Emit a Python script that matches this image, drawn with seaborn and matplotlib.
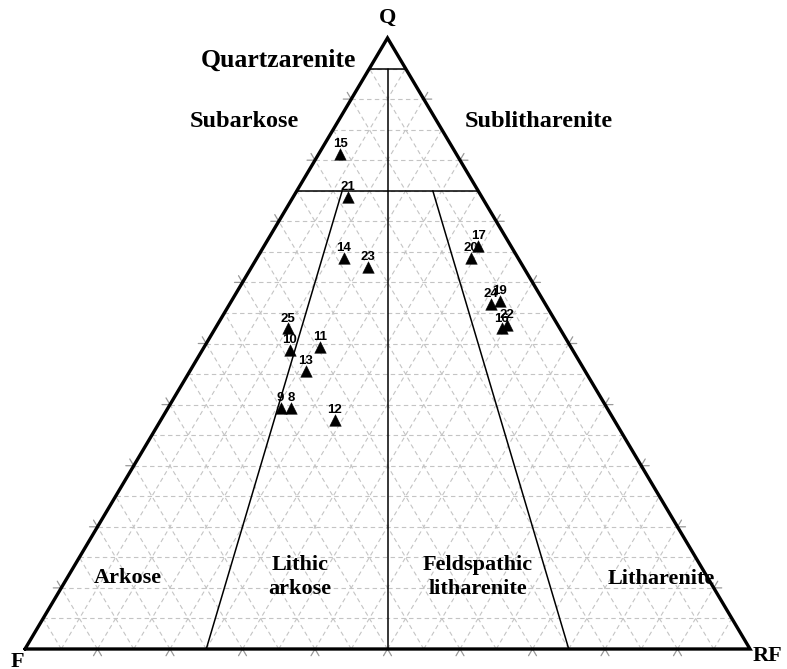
import numpy as np
import pandas as pd
import seaborn as sns
import matplotlib.pyplot as plt

# sample compositions (% Q / F / RF)
sample_ids = ['15', '21', '14', '23', '25', '10', '11', '13', '9', '8', '12',
              '17', '20', '19', '24', '22', '16']
q_pct = [81, 74, 64, 62.5, 52.5, 49, 49.5, 45.5, 39.5, 39.5, 37.5,
         66, 64, 57, 56.5, 53, 52.5]
f_pct = [16, 18.5, 24, 21.5, 37.5, 39, 34.5, 38.5, 45, 43.5, 38.5,
         4.5, 6.5, 6, 7.5, 7, 8]
rf_pct = [3, 7.5, 12, 16, 10, 12, 16, 16, 15.5, 17, 24,
          29.5, 29.5, 37, 36, 40, 39.5]

# Folk field boundaries, each as (Q, F, RF) end points in %
boundaries = [
    [(95, 5, 0), (95, 0, 5)],
    [(75, 25, 0), (75, 0, 25)],
    [(95, 2.5, 2.5), (0, 50, 50)],
    [(75, 18.75, 6.25), (0, 75, 25)],
    [(75, 6.25, 18.75), (0, 25, 75)],
]

field_names = ['Quartzarenite', 'Subarkose', 'Sublitharenite', 'Arkose',
               'Lithic\narkose', 'Feldspathic\nlitharenite', 'Litharenite']
field_pos = [(0.349, 0.964), (0.302, 0.864), (0.709, 0.864), (0.142, 0.116),
             (0.379, 0.118), (0.625, 0.118), (0.878, 0.115)]
field_size = [18.5, 17.5, 17.5, 16, 16, 16, 16]


def to_xy(q, f, r):
    q = np.asarray(q, float) / 100
    r = np.asarray(r, float) / 100
    return r + q / 2, q


sns.set_style('white')
plt.rcParams['text.color'] = 'black'
serif = ['Liberation Serif', 'DejaVu Serif']
sans = ['Liberation Sans', 'DejaVu Sans']

fig = plt.figure(figsize=(7.87, 6.69), dpi=100)
ax = fig.add_axes([25 / 787, 20 / 669, 725 / 787, 611 / 669])

grid_kw = dict(color='#c4c4c4', lw=0.8, ls=(0, (4, 3)), zorder=1)
for v in np.arange(1, 20) / 20:
    ax.plot([v / 2, 1 - v / 2], [v, v], **grid_kw)
    ax.plot([v, v + (1 - v) / 2], [0, 1 - v], **grid_kw)
    ax.plot([1 - v, (1 - v) / 2], [0, 1 - v], **grid_kw)

# small ticks on the edges every 10 %
t = 0.011
tick_kw = dict(color='#999999', lw=0.9, zorder=1, clip_on=False)
for v in np.arange(1, 10) / 10:
    ax.plot([v - t / 2, v, v + t / 2], [-t, 0, -t], **tick_kw)
    ax.plot([v / 2 - t, v / 2, v / 2 - t / 2], [v, v, v + t], **tick_kw)
    ax.plot([1 - v / 2 + t, 1 - v / 2, 1 - v / 2 + t / 2], [v, v, v + t], **tick_kw)

for seg in boundaries:
    qs, fs, rs = zip(*seg)
    bx, by = to_xy(qs, fs, rs)
    ax.plot(bx, by, color='black', lw=1.1, zorder=2)

ax.plot([0, 1, 0.5, 0], [0, 0, 1, 0], color='black', lw=2.4,
        solid_joinstyle='miter', zorder=3, clip_on=False)

px, py = to_xy(q_pct, f_pct, rf_pct)
df = pd.DataFrame({'id': sample_ids, 'x': px, 'y': py})
sns.scatterplot(data=df, x='x', y='y', marker='^', color='black', s=70,
                edgecolor='black', linewidth=0.3, zorder=5, ax=ax, legend=False)
for _, row in df.iterrows():
    ax.annotate(row['id'], (row['x'], row['y']), xytext=(0, 7),
                textcoords='offset points', ha='center', va='center',
                fontsize=9.5, fontweight='bold', family=sans, zorder=4)

for name, (tx, ty), fs in zip(field_names, field_pos, field_size):
    ax.text(tx, ty, name, ha='center', va='center', fontsize=fs,
            fontweight='bold', family=serif, linespacing=1.25)

ax.text(0.5, 1.033, 'Q', ha='center', va='center', fontsize=16,
        fontweight='bold', family=serif)
ax.text(-0.011, -0.022, 'F', ha='center', va='center', fontsize=16,
        fontweight='bold', family=serif)
ax.text(1.024, -0.012, 'RF', ha='center', va='center', fontsize=16,
        fontweight='bold', family=serif)

ax.set_xlim(0, 1)
ax.set_ylim(0, 1)
ax.axis('off')

fig.savefig('out.png', dpi=100)
